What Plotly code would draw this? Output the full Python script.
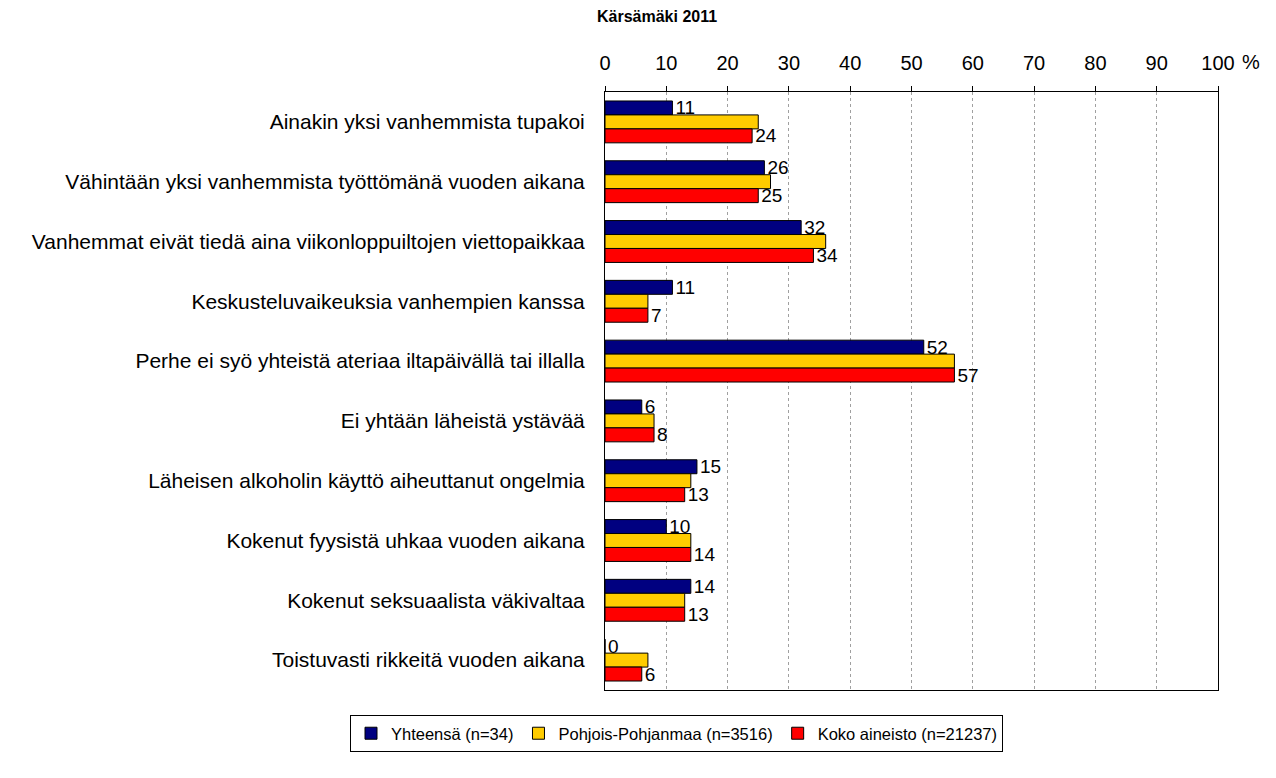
import plotly.graph_objects as go

categories = [
    "Ainakin yksi vanhemmista tupakoi",
    "Vähintään yksi vanhemmista työttömänä vuoden aikana",
    "Vanhemmat eivät tiedä aina viikonloppuiltojen viettopaikkaa",
    "Keskusteluvaikeuksia vanhempien kanssa",
    "Perhe ei syö yhteistä ateriaa iltapäivällä tai illalla",
    "Ei yhtään läheistä ystävää",
    "Läheisen alkoholin käyttö aiheuttanut ongelmia",
    "Kokenut fyysistä uhkaa vuoden aikana",
    "Kokenut seksuaalista väkivaltaa",
    "Toistuvasti rikkeitä vuoden aikana",
]
yhteensa = [11, 26, 32, 11, 52, 6, 15, 10, 14, 0]
pohjois = [25, 27, 36, 7, 57, 8, 14, 14, 13, 7]
koko = [24, 25, 34, 7, 57, 8, 13, 14, 13, 6]
series_names = ["Yhteensä (n=34)", "Pohjois-Pohjanmaa (n=3516)", "Koko aineisto (n=21237)"]
colors = ["#000080", "#FFCC00", "#FF0000"]
tick_vals = list(range(0, 101, 10))
tick_text = [str(v) for v in tick_vals]
title_text = "Kärsämäki 2011"

FONT = "Liberation Sans, Arial, sans-serif"

# page has an 8px body margin; plot area target in screen px: x 605..1218, y 92..690
OFF = 8
PL, PR, PT, PB = 605, 1218, 92, 690
W, H = 1276 - OFF, 778 - OFF
PW, PH = PR - PL, PB - PT

def px(x):
    return (x - PL) / PW

def py(y):
    return (PB - y) / PH

fig = go.Figure()
for name, vals, col, show_text in zip(series_names, [yhteensa, pohjois, koko], colors, [True, False, True]):
    fig.add_trace(go.Bar(
        name=name,
        y=categories,
        x=vals,
        orientation="h",
        marker=dict(color=col, line=dict(color="#000000", width=1)),
        text=[str(v) for v in vals] if show_text else None,
        textposition="outside" if show_text else "none",
        textfont=dict(family=FONT, size=19, color="#000000"),
        constraintext="none",
        cliponaxis=False,
    ))

fig.update_layout(
    width=W,
    height=H,
    margin=dict(l=PL - OFF, r=W - (PR - OFF), t=PT - OFF, b=H - (PB - OFF), autoexpand=False),
    paper_bgcolor="white",
    plot_bgcolor="white",
    barmode="group",
    bargap=0.3,
    bargroupgap=0,
    font=dict(family=FONT, size=17, color="#000000"),
    xaxis=dict(
        side="top",
        range=[0, 100],
        tickvals=tick_vals,
        ticktext=tick_text,
        ticks="outside",
        ticklen=5,
        tickcolor="#000000",
        showline=True,
        linecolor="#000000",
        linewidth=1,
        mirror=True,
        showgrid=True,
        gridcolor="#a0a0a0",
        griddash="dot",
        gridwidth=1,
        zeroline=False,
        tickfont=dict(family=FONT, size=20),
        ticklabelstandoff=8,
    ),
    yaxis=dict(
        autorange="reversed",
        ticks="",
        showline=True,
        linecolor="#000000",
        linewidth=1,
        mirror=True,
        showgrid=False,
        tickfont=dict(family=FONT, size=21),
        ticklabelstandoff=15,
    ),
    legend=dict(
        orientation="h",
        xref="paper",
        yref="paper",
        x=px(350),
        xanchor="left",
        y=py(715),
        yanchor="top",
        bordercolor="#000000",
        borderwidth=1,
        bgcolor="white",
        font=dict(family=FONT, size=16.5),
        itemwidth=30,
        traceorder="normal",
    ),
    annotations=[
        dict(text="<b>" + title_text + "</b>", xref="paper", yref="paper", x=px(657), y=py(17),
             xanchor="center", yanchor="middle", showarrow=False, font=dict(family=FONT, size=16)),
        dict(text="%", xref="paper", yref="paper", x=px(1251), y=py(62),
             xanchor="center", yanchor="middle", showarrow=False, font=dict(family=FONT, size=20)),
    ],
)

fig.write_html("out.html")
